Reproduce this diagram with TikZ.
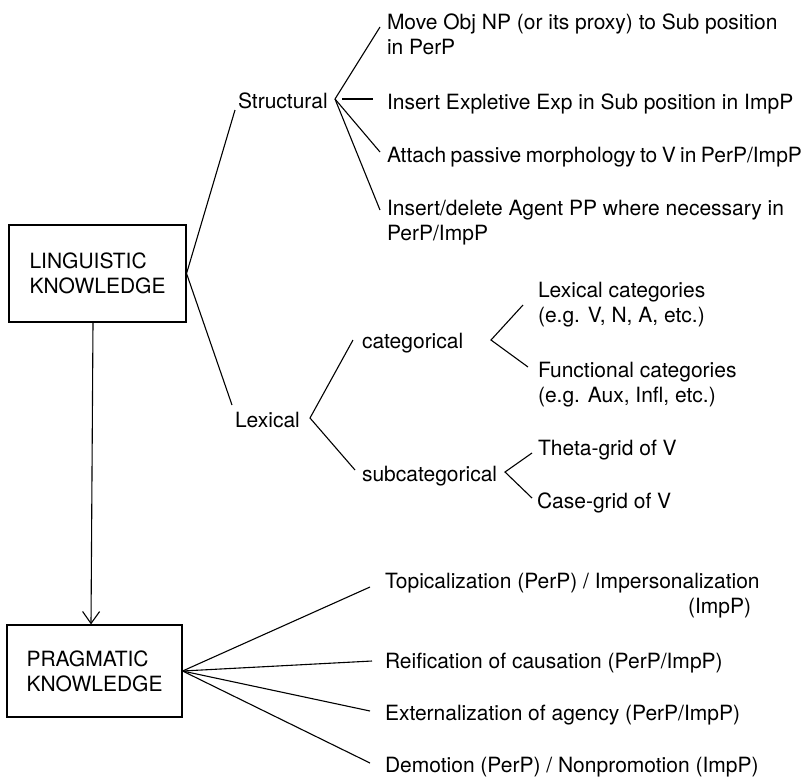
\documentclass[tikz,border=0pt]{standalone}
\usepackage{fontspec}
\setmainfont{TeX Gyre Heros}
\usetikzlibrary{arrows.meta}
\begin{document}
\begin{tikzpicture}[x=1pt,y=-1pt,
  every node/.style={font=\fontsize{21}{25}\selectfont},
  txt/.style={inner sep=0pt,anchor=text,align=left},
  kbox/.style={draw,line width=1.1pt,align=left,inner sep=0pt},
  conn/.style={line width=1.1pt},
  arr/.style={line width=1.1pt,-{Straight Barb[length=12pt,width=17pt]}}]
\useasboundingbox (0,0) rectangle (805,777);
% boxes
\node[kbox,minimum width=177pt,minimum height=97pt] (lk) at (97.5,273.5) {LINGUISTIC\\KNOWLEDGE};
\node[kbox,minimum width=175pt,minimum height=92pt] (pk) at (94.5,671) {PRAGMATIC\\KNOWLEDGE};
% structural branch (multi-line nodes are placed at the baseline of their last line)
\node[txt] (st) at (238,108) {Structural};
\node[txt] (m1) at (387,54) {Move Obj NP (or its proxy) to Sub position\\in PerP};
\node[txt] (m2) at (387,109) {Insert Expletive Exp in Sub position in ImpP};
\node[txt] (m3) at (387,162) {\spaceskip=4.4pt plus 1pt\relax Attach passive morphology to V in PerP/ImpP};
\node[txt] (m4) at (387,240) {Insert/delete Agent PP where necessary in\\PerP/ImpP};
% lexical branch
\node[txt] (lx) at (235,427) {Lexical};
\node[txt] (ca) at (362,348) {categorical};
\node[txt] (sc) at (362,481) {subcategorical};
\node[txt] (c1) at (538,322) {Lexical categories\\(e.g. V, N, A, etc.)};
\node[txt] (c2) at (538,402) {Functional categories\\(e.g. Aux, Infl, etc.)};
\node[txt] (t1) at (538,455) {Theta-grid of V};
\node[txt] (t2) at (537,508) {Case-grid of V};
% pragmatic branch
\node[txt] (p1) at (385,613) {Topicalization (PerP) / Impersonalization\\\hspace*{303pt}(ImpP)};
\node[txt] (p2) at (385,668) {Reification of causation (PerP/ImpP)};
\node[txt] (p3) at (385,720) {Externalization of agency (PerP/ImpP)};
\node[txt] (p4) at (385,772) {Demotion (PerP) / Nonpromotion (ImpP)};
% fan apexes
\coordinate (sa) at ([shift={(97,-9)}]st.text);
\coordinate (la) at ([shift={(75,-9)}]lx.text);
\coordinate (caa) at ([shift={(129,-8)}]ca.text);
\coordinate (sca) at ([shift={(143,-9)}]sc.text);
% connectors
\draw[conn] ([shift={(-3,2)}]st.text) -- (lk.east) -- ([shift={(-3,-22)}]lx.text);
\draw[conn] (sa) -- ([shift={(-7,-27)}]m1.text);
\draw[conn] ([shift={(7,0)}]sa) -- ([shift={(-14,-10)}]m2.text);
\draw[conn] (sa) -- ([shift={(-7,-10)}]m3.text);
\draw[conn] (sa) -- ([shift={(-7,-30)}]m4.text);
\draw[conn] ([shift={(-9,-8)}]ca.text) -- (la) -- ([shift={(-7,-11)}]sc.text);
\draw[conn] ([shift={(-15,-17)}]c1.text) -- (caa) -- ([shift={(-10,-35)}]c2.text);
\draw[conn] ([shift={(-6,-2)}]t1.text) -- (sca) -- ([shift={(-5,-10)}]t2.text);
\draw[arr] ([xshift=-4.5]lk.south) -- ([xshift=-3.5]pk.north);
\draw[conn] (pk.east) -- ([shift={(-15,-26)}]p1.text);
\draw[conn] (pk.east) -- ([shift={(-13,-7)}]p2.text);
\draw[conn] (pk.east) -- ([shift={(-15,-9)}]p3.text);
\draw[conn] (pk.east) -- ([shift={(-15,-9)}]p4.text);
\end{tikzpicture}
\end{document}
